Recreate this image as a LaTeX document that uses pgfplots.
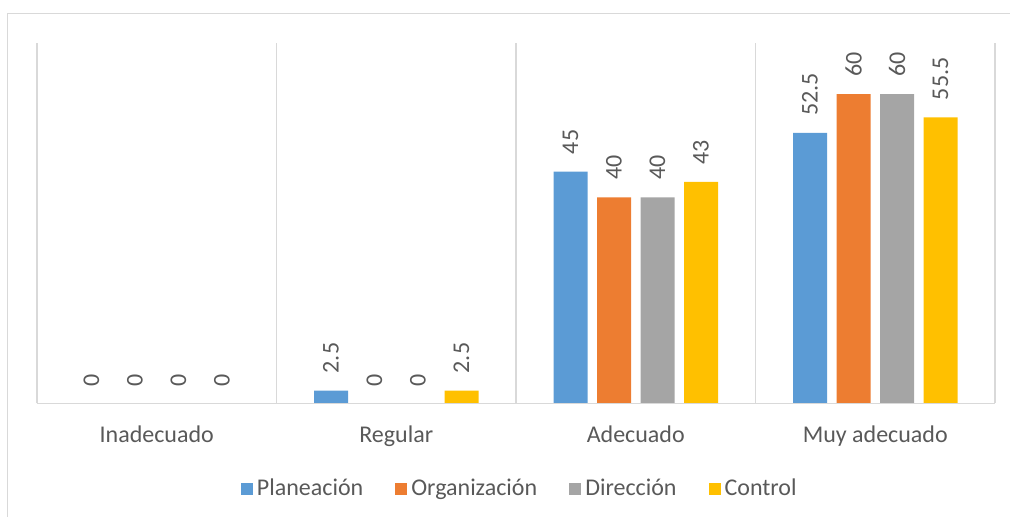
\documentclass[border=0pt]{standalone}
\usepackage{pgfplots}
\pgfplotsset{compat=1.18}
\usepackage{fontspec}
\setmainfont{Carlito}
\definecolor{cPlan}{HTML}{5B9BD5}
\definecolor{cOrg}{HTML}{ED7D31}
\definecolor{cDir}{HTML}{A5A5A5}
\definecolor{cCtrl}{HTML}{FFC000}
\definecolor{txt}{HTML}{595959}
\definecolor{gridc}{HTML}{D9D9D9}
\begin{document}
\begin{tikzpicture}
    \path[use as bounding box] (0,0) rectangle (505pt,258.5pt);
    % chart frame
    \draw[gridc, line width=0.6pt] (3.7pt,-1pt) -- (3.7pt,251.8pt) -- (506pt,251.8pt);
    \begin{axis}[
        at={(18.5pt,56.75pt)}, anchor=south west,
        scale only axis,
        width=479pt, height=180.4pt,
        xmin=-0.5, xmax=3.5,
        ymin=0, ymax=70,
        ybar=4.75pt, bar width=17pt,
        axis line style={draw=none},
        ytick=\empty,
        xtick={0,1,2,3},
        xticklabels={Inadecuado, Regular, Adecuado, Muy adecuado},
        minor xtick={-0.5,0.5,1.5,2.5,3.5},
        xminorgrids=true,
        minor grid style={gridc, line width=0.6pt},
        major tick length=0pt, minor tick length=0pt,
        xticklabel style={anchor=base, yshift=-19.4pt, font=\fontsize{12}{14}\selectfont, text=txt},
        /pgf/number format/assume math mode=true,
        nodes near coords,
        every node near coord/.append style={rotate=90, anchor=west, inner xsep=8.5pt, inner ysep=0pt,
            font=\fontsize{12}{14}\selectfont, text=txt},
        legend style={at={(0.505,-0.237)}, anchor=center, draw=none, fill=none,
            font=\fontsize{12}{14}\selectfont, text=txt, legend columns=-1,
            /tikz/every even column/.append style={column sep=14pt}},
        legend image code/.code={\fill[#1] (0pt,-3pt) rectangle (6pt,3pt);},
        clip=false,
    ]
    \addplot[draw=none, fill=cPlan] coordinates {(0,0) (1,2.5) (2,45) (3,52.5)};
    \addlegendentry{Planeación}
    \addplot[draw=none, fill=cOrg] coordinates {(0,0) (1,0) (2,40) (3,60)};
    \addlegendentry{Organización}
    \addplot[draw=none, fill=cDir] coordinates {(0,0) (1,0) (2,40) (3,60)};
    \addlegendentry{Dirección}
    \addplot[draw=none, fill=cCtrl] coordinates {(0,0) (1,2.5) (2,43) (3,55.5)};
    \addlegendentry{Control}
    \draw[gridc, line width=0.6pt] (rel axis cs:0,0) -- (rel axis cs:1,0);
    \end{axis}
\end{tikzpicture}
\end{document}
